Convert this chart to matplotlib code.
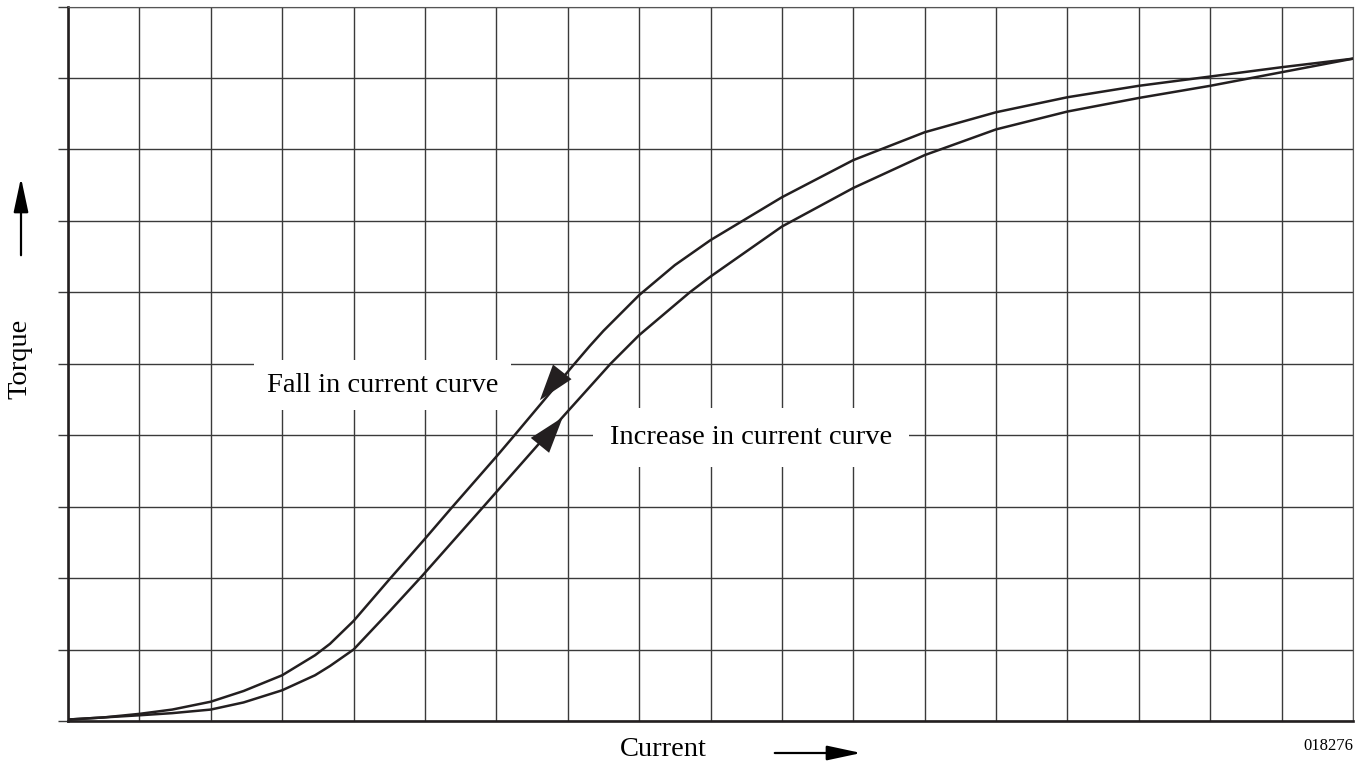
import matplotlib.pyplot as plt
from matplotlib.patches import FancyArrowPatch

plt.rcParams['font.family'] = ['Liberation Serif', 'DejaVu Serif']

# readings (x: current in grid units, y: torque in grid units)
fall_x = [0, 0.5, 1, 1.46, 2, 2.46, 3, 3.46, 3.67, 4, 4.5, 5, 5.37, 6, 6.23,
          7.07, 7.31, 7.5, 8, 8.5, 9, 10, 11, 12, 13, 14, 15, 16, 17, 18]
fall_y = [0.02, 0.05, 0.10, 0.16, 0.27, 0.42, 0.64, 0.92, 1.08, 1.40, 1.98, 2.55, 2.98, 3.70, 3.97,
          4.97, 5.25, 5.46, 5.96, 6.38, 6.73, 7.33, 7.85, 8.24, 8.52, 8.73, 8.89, 9.02, 9.15, 9.27]

rise_x = [0, 0.5, 1, 1.46, 2, 2.46, 3, 3.46, 3.67, 4, 4.5, 4.96, 5.82, 6.72, 6.97,
          7.6, 8, 8.71, 9, 10, 11, 12, 13, 14, 15, 16, 17, 18]
rise_y = [0.02, 0.05, 0.08, 0.11, 0.16, 0.26, 0.43, 0.64, 0.77, 1.0, 1.53, 2.03, 3.0, 4.02, 4.30,
          5.0, 5.40, 6.0, 6.22, 6.92, 7.46, 7.92, 8.28, 8.53, 8.72, 8.89, 9.08, 9.27]

fig = plt.figure(figsize=(13.62, 7.67), dpi=100)
ax = fig.add_axes([68 / 1362, 1 - 721 / 767, (1353 - 68) / 1362, (721 - 6.5) / 767])

ax.set_xlim(0, 18)
ax.set_ylim(0, 10)
ax.set_xticks(range(0, 19))
ax.set_yticks(range(0, 11))
ax.grid(True, color='#3a3a3a', linewidth=1.0)
ax.set_axisbelow(True)
ax.tick_params(axis='x', length=0, labelbottom=False)
ax.tick_params(axis='y', length=7, width=1.0, color='#3a3a3a', labelleft=False)

for s in ['top', 'right']:
    ax.spines[s].set_linewidth(0.8)
    ax.spines[s].set_color('#555555')
for s in ['left', 'bottom']:
    ax.spines[s].set_linewidth(1.9)
    ax.spines[s].set_color('#231f20')

ax.plot(fall_x, fall_y, color='#231f20', lw=1.8, zorder=3, solid_joinstyle='round')
ax.plot(rise_x, rise_y, color='#231f20', lw=1.8, zorder=3, solid_joinstyle='round')

# direction arrows on the curves
head = '-|>,head_length=2.6,head_width=0.85'
ax.annotate('', xy=(6.61, 4.49), xytext=(6.95, 4.92),
            arrowprops=dict(arrowstyle=head, mutation_scale=10, color='#231f20',
                            lw=0, shrinkA=0, shrinkB=0), zorder=4)
ax.annotate('', xy=(6.93, 4.25), xytext=(6.58, 3.82),
            arrowprops=dict(arrowstyle=head, mutation_scale=10, color='#231f20',
                            lw=0, shrinkA=0, shrinkB=0), zorder=4)

ax.text(4.41, 4.70, 'Fall in current curve', fontsize=20.5, ha='center', va='center',
        bbox=dict(boxstyle='square,pad=0.45', fc='white', ec='none'), zorder=2)
ax.text(9.57, 3.97, 'Increase in current curve', fontsize=20.5, ha='center', va='center',
        bbox=dict(boxstyle='square,pad=0.6', fc='white', ec='none'), zorder=2)

# axis labels with their arrows
lab_arrow = '-|>,head_length=2.1,head_width=0.45'
fig.text(20 / 1362, 1 - 359 / 767, 'Torque', rotation=90, fontsize=20.5, ha='center', va='center')
fig.add_artist(FancyArrowPatch(
    (21 / 1362, 1 - 258 / 767), (21 / 1362, 1 - 175 / 767), transform=fig.transFigure,
    arrowstyle=lab_arrow, mutation_scale=10, color='black', lw=1.6))
fig.text(663 / 1362, 1 - 750 / 767, 'Current', fontsize=20.5, ha='center', va='center')
fig.add_artist(FancyArrowPatch(
    (772 / 1362, 1 - 753 / 767), (864 / 1362, 1 - 753 / 767), transform=fig.transFigure,
    arrowstyle=lab_arrow, mutation_scale=10, color='black', lw=1.6))
fig.text(1353 / 1362, 1 - 746 / 767, '018276', fontsize=12, ha='right', va='center')

fig.savefig('out.png', dpi=100, facecolor='white')
